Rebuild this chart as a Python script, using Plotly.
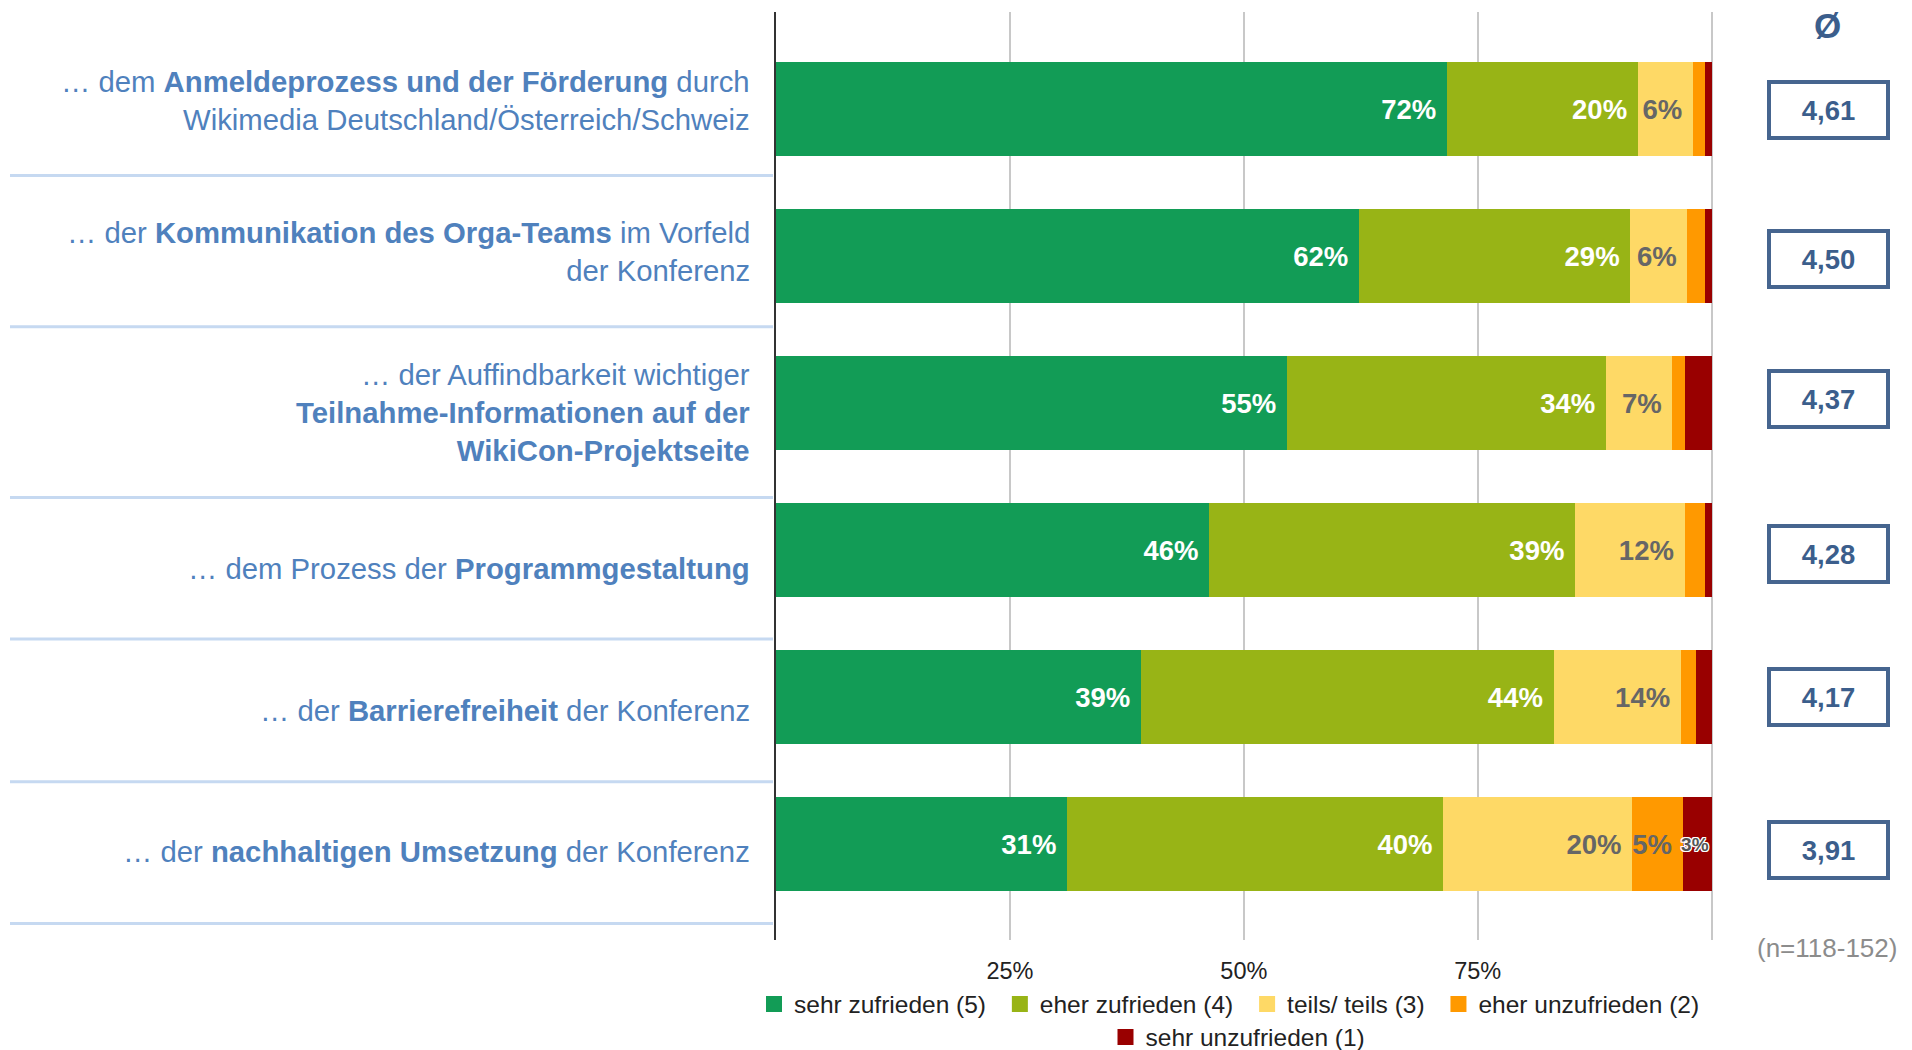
import plotly.graph_objects as go

# ---------------- data ----------------
row_ids = ["r1", "r2", "r3", "r4", "r5", "r6"]
row_labels = [
    "… dem <b>Anmeldeprozess und der Förderung</b> durch<br>Wikimedia Deutschland/Österreich/Schweiz",
    "… der <b>Kommunikation des Orga-Teams</b> im Vorfeld<br>der Konferenz",
    "… der Auffindbarkeit wichtiger<br><b>Teilnahme-Informationen auf der<br>WikiCon-Projektseite</b>",
    "… dem Prozess der <b>Programmgestaltung</b>",
    "… der <b>Barrierefreiheit</b> der Konferenz",
    "… der <b>nachhaltigen Umsetzung</b> der Konferenz",
]
series_names = ["sehr zufrieden (5)", "eher zufrieden (4)", "teils/ teils (3)",
                "eher unzufrieden (2)", "sehr unzufrieden (1)"]
sehr_zufrieden = [71.7, 62.3, 54.6, 46.3, 39.0, 31.1]
eher_zufrieden = [20.4, 29.0, 34.1, 39.1, 44.1, 40.2]
teils_teils = [5.9, 6.1, 7.1, 11.7, 13.6, 20.2]
eher_unzufrieden = [1.3, 1.9, 1.3, 2.2, 1.6, 5.4]
sehr_unzufrieden = [0.7, 0.7, 2.9, 0.7, 1.7, 3.1]
# which segments carry a printed percentage
show_label = [
    [True] * 6,
    [True] * 6,
    [True] * 6,
    [False, False, False, False, False, True],
    [False, False, False, False, False, True],
]
means = ["4,61", "4,50", "4,37", "4,28", "4,17", "3,91"]
n_note = "(n=118-152)"
x_tickvals = [25, 50, 75, 100]
x_ticktext = ["25%", "50%", "75%", ""]

# ---------------- style ----------------
colors = ["#129C56", "#98B416", "#FED966", "#FF9900", "#990000"]
text_colors = ["white", "white", "#666666", "#666666", "#555555"]
text_sizes = [27.5, 27.5, 27.5, 27.5, 19]
FONT = "Liberation Sans, Arial, sans-serif"
LABEL_BLUE = "#4F81BD"
BOX_BLUE = "#46658F"

OFF = 8  # page body margin
W, H = 1912 - OFF, 1050 - OFF
plot_l, plot_r, plot_t, plot_b = 776 - OFF, 1714 - OFF, 12 - OFF, 940 - OFF
ml, mr, mt, mb = plot_l, W - plot_r, plot_t, H - plot_b
y_range = [5.653, -0.66]
plot_h = plot_b - plot_t
plot_w = plot_r - plot_l


def px_x(x):  # reference-screen x -> paper
    return (x - OFF - plot_l) / plot_w


def px_y(y):  # reference-screen y -> paper
    return (plot_b - (y - OFF)) / plot_h


def y_to_paper(v):
    return (y_range[0] - v) / (y_range[0] - y_range[1])


# text positions / separators (in category units)
label_center = [-0.058, 0.967, 2.062, 3.124, 4.095, 5.05]
separators = [0.452, 1.481, 2.643, 3.606, 4.577, 5.54]
box_center = [0.005, 1.02, 1.97, 3.03, 4.0, 5.04]

fig = go.Figure()
all_vals = [sehr_zufrieden, eher_zufrieden, teils_teils, eher_unzufrieden, sehr_unzufrieden]
for i, (name, vals) in enumerate(zip(series_names, all_vals)):
    texts = [(f"{round(v)}%\u00a0" if show_label[i][j] else "") for j, v in enumerate(vals)]
    tf = dict(family=FONT, size=text_sizes[i], color=text_colors[i], weight="bold")
    if i == 4:
        tf["shadow"] = ("1px 1px 0 #fff, -1px -1px 0 #fff, 1px -1px 0 #fff, -1px 1px 0 #fff, "
                        "0 1px 0 #fff, 0 -1px 0 #fff, 1px 0 0 #fff, -1px 0 0 #fff")
        texts = [t.replace("\u00a0", "") for t in texts]
    fig.add_trace(go.Bar(
        y=row_ids, x=vals, name=name, orientation="h",
        marker=dict(color=colors[i], line=dict(width=0)),
        text=texts, textposition="inside", insidetextanchor="end",
        constraintext="none", textfont=tf, textangle=0,
        hoverinfo="skip", showlegend=False,
    ))

# legend entries (square swatches)
for i, name in enumerate(series_names):
    fig.add_trace(go.Scatter(
        x=[None], y=[None], mode="markers", name=name + ("\u00a0\u200a" if i < 3 else ""),
        marker=dict(symbol="square", size=16, color=colors[i]),
        legend="legend" if i < 4 else "legend2", showlegend=True, hoverinfo="skip",
    ))

annotations = []
for j, lab in enumerate(row_labels):
    annotations.append(dict(
        x=0, xref="paper", xanchor="right", xshift=-24,
        y=y_to_paper(label_center[j]), yref="paper", yanchor="middle",
        text=lab, showarrow=False, align="right",
        font=dict(family=FONT, size=29.3, color=LABEL_BLUE),
    ))
    annotations.append(dict(
        x=px_x(1828), xref="paper", xanchor="center",
        y=y_to_paper(box_center[j]), yref="paper", yanchor="middle",
        text=f"<b>{means[j]}</b>", showarrow=False,
        font=dict(family=FONT, size=27.5, color="#3B5E8C"),
        bordercolor=BOX_BLUE, borderwidth=4, borderpad=2,
        width=111, height=48, bgcolor="white",
    ))
annotations.append(dict(
    x=px_x(1827), xref="paper", xanchor="center",
    y=px_y(25), yref="paper", yanchor="middle",
    text="<b>Ø</b>", showarrow=False, height=28,
    font=dict(family=FONT, size=35, color="#3B5E8C"),
))
annotations.append(dict(
    x=px_x(1827), xref="paper", xanchor="center",
    y=px_y(948), yref="paper", yanchor="middle",
    text=n_note, showarrow=False,
    font=dict(family=FONT, size=26, color="#8C8C8C"),
))

shapes = []
for s in separators:
    yp = y_to_paper(s)
    shapes.append(dict(type="line", xref="paper", yref="paper",
                       x0=px_x(10), x1=px_x(773), y0=yp, y1=yp,
                       line=dict(color="#C6D9F1", width=3)))

fig.update_layout(
    width=W, height=H,
    barmode="stack", bargap=0.36,
    margin=dict(l=ml, r=mr, t=mt, b=mb, pad=0, autoexpand=False),
    plot_bgcolor="white", paper_bgcolor="white",
    font=dict(family=FONT, color="#222"),
    xaxis=dict(range=[0, 100.25], tickvals=x_tickvals, ticktext=x_ticktext,
               showgrid=True, gridcolor="#C8C8C8", gridwidth=2,
               zeroline=False, showline=False, ticks="",
               ticklabelstandoff=14,
               tickfont=dict(family=FONT, size=23.5, color="#222")),
    yaxis=dict(type="category", categoryorder="array", categoryarray=row_ids,
               range=y_range, showticklabels=False, showgrid=False,
               zeroline=False, showline=True, linecolor="#333", linewidth=1.5,
               ticks=""),
    legend=dict(orientation="h", xref="paper", yref="paper",
                x=px_x(754), xanchor="left",
                y=px_y(1004), yanchor="middle",
                font=dict(family=FONT, size=24.5, color="#222"),
                traceorder="normal", bgcolor="rgba(0,0,0,0)"),
    legend2=dict(orientation="h", xref="paper", yref="paper",
                 x=px_x(1238), xanchor="center",
                 y=px_y(1037), yanchor="middle",
                 font=dict(family=FONT, size=24.5, color="#222"),
                 bgcolor="rgba(0,0,0,0)"),
    annotations=annotations,
    shapes=shapes,
    showlegend=True,
)

fig.write_html("out.html")
